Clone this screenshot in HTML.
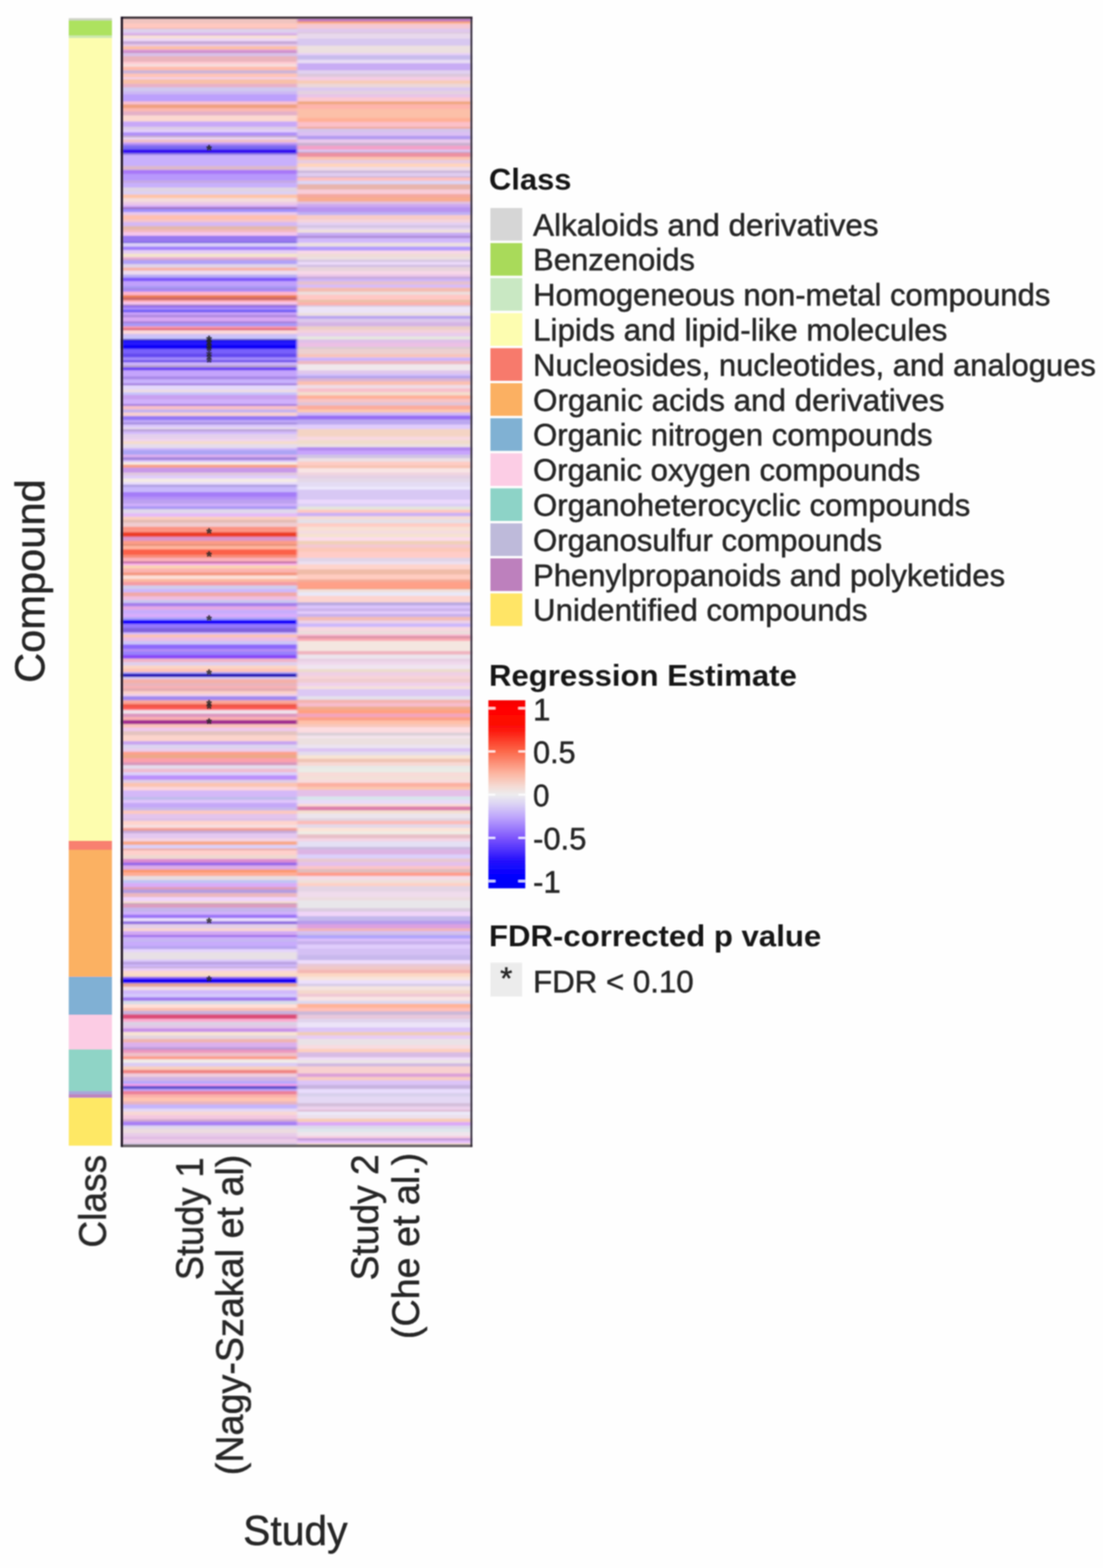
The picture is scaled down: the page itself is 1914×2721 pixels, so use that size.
<!DOCTYPE html>
<html lang="en"><head><meta charset="utf-8"><title>Regression estimate heatmap</title>
<style>
html,body{margin:0;padding:0;background:#fefefe;}
body{width:1914px;height:2721px;overflow:hidden;}
svg{display:block;}
text{font-family:"Liberation Sans",Arial,Helvetica,sans-serif;fill:#262626;stroke:#262626;stroke-width:0.8px;stroke-linejoin:round;}
.b{font-weight:bold;fill:#181818;stroke:none;}
</style></head><body>
<svg width="1914" height="2721" viewBox="0 0 1914 2721">
<defs>
<filter id="bl" x="-5%" y="-5%" width="110%" height="110%"><feGaussianBlur stdDeviation="1.3"/></filter>
<filter id="bh" x="-2%" y="-2%" width="104%" height="104%"><feGaussianBlur stdDeviation="2.2 1.6"/></filter>
<filter id="bt" x="-10%" y="-10%" width="120%" height="120%"><feGaussianBlur stdDeviation="1.15"/></filter>
<linearGradient id="cb" x1="0" y1="0" x2="0" y2="1">
<stop offset="0" stop-color="#f40000"/>
<stop offset="0.04" stop-color="#ff0000"/>
<stop offset="0.15" stop-color="#fd1208"/>
<stop offset="0.272" stop-color="#fc684a"/>
<stop offset="0.39" stop-color="#fcb6a2"/>
<stop offset="0.46" stop-color="#f4dcd6"/>
<stop offset="0.502" stop-color="#ececee"/>
<stop offset="0.55" stop-color="#dcd4f4"/>
<stop offset="0.62" stop-color="#bea6fc"/>
<stop offset="0.732" stop-color="#7e56fc"/>
<stop offset="0.85" stop-color="#2612fc"/>
<stop offset="0.93" stop-color="#0400ff"/>
<stop offset="1" stop-color="#0000f6"/>
</linearGradient>
</defs>
<rect x="0" y="0" width="1914" height="2721" fill="#fefefe"/>
<g filter="url(#bl)">
<rect x="119.3" y="31.5" width="75.0" height="4.5" fill="#cfd3c8"/>
<rect x="119.3" y="35.5" width="75.0" height="26.5" fill="#ade25f"/>
<rect x="119.3" y="61.5" width="75.0" height="5.0" fill="#cde8b0"/>
<rect x="119.3" y="66.0" width="75.0" height="1393.5" fill="#fdfdae"/>
<rect x="119.3" y="1459.0" width="75.0" height="16.2" fill="#f8806f"/>
<rect x="119.3" y="1474.7" width="75.0" height="220.8" fill="#fbb162"/>
<rect x="119.3" y="1695.0" width="75.0" height="66.5" fill="#80b0d4"/>
<rect x="119.3" y="1761.0" width="75.0" height="60.5" fill="#fccce4"/>
<rect x="119.3" y="1821.0" width="75.0" height="72.9" fill="#8fd4c6"/>
<rect x="119.3" y="1893.4" width="75.0" height="6.1" fill="#a8a6d8"/>
<rect x="119.3" y="1899.0" width="75.0" height="6.5" fill="#bd84c0"/>
<rect x="119.3" y="1905.0" width="75.0" height="83.1" fill="#fee865"/>
</g>
<g filter="url(#bh)">
<rect x="211.5" y="30.7" width="606.5" height="1957.8" fill="#e0d0ec"/>
<rect x="211.5" y="30.89" width="304.3" height="3.45" fill="#e8c0c0"/>
<rect x="211.5" y="33.94" width="304.3" height="6.93" fill="#f0c4c0"/>
<rect x="211.5" y="40.47" width="304.3" height="8.68" fill="#ffc8c0"/>
<rect x="211.5" y="48.75" width="304.3" height="1.70" fill="#f0b0a8"/>
<rect x="211.5" y="50.05" width="304.3" height="6.94" fill="#ddd0ec"/>
<rect x="211.5" y="56.59" width="304.3" height="3.44" fill="#e0b8f0"/>
<rect x="211.5" y="59.63" width="304.3" height="2.15" fill="#c8a0d8"/>
<rect x="211.5" y="61.38" width="304.3" height="6.06" fill="#f8e0d8"/>
<rect x="211.5" y="67.04" width="304.3" height="4.75" fill="#eed8f8"/>
<rect x="211.5" y="71.39" width="304.3" height="5.63" fill="#c8a8d8"/>
<rect x="211.5" y="76.62" width="304.3" height="3.88" fill="#e8c8e8"/>
<rect x="211.5" y="80.10" width="304.3" height="6.50" fill="#fcc0a8"/>
<rect x="211.5" y="86.20" width="304.3" height="3.89" fill="#d898d8"/>
<rect x="211.5" y="89.69" width="304.3" height="2.57" fill="#c888c0"/>
<rect x="211.5" y="91.86" width="304.3" height="6.07" fill="#d8c0e8"/>
<rect x="211.5" y="97.53" width="304.3" height="9.98" fill="#eab4bc"/>
<rect x="211.5" y="107.11" width="304.3" height="3.88" fill="#ffc8d0"/>
<rect x="211.5" y="110.59" width="304.3" height="5.63" fill="#f8dcdc"/>
<rect x="211.5" y="115.82" width="304.3" height="6.50" fill="#ffbcac"/>
<rect x="211.5" y="121.92" width="304.3" height="6.06" fill="#ccb4d8"/>
<rect x="211.5" y="127.58" width="304.3" height="6.93" fill="#ffc4b8"/>
<rect x="211.5" y="134.11" width="304.3" height="3.89" fill="#f4d0e8"/>
<rect x="211.5" y="137.60" width="304.3" height="8.24" fill="#f8c0a8"/>
<rect x="211.5" y="145.44" width="304.3" height="6.49" fill="#e8b0c8"/>
<rect x="211.5" y="151.53" width="304.3" height="7.37" fill="#d0c8f0"/>
<rect x="211.5" y="158.50" width="304.3" height="5.63" fill="#ccb8f4"/>
<rect x="211.5" y="163.73" width="304.3" height="12.59" fill="#bca0fc"/>
<rect x="211.5" y="175.92" width="304.3" height="5.63" fill="#f8c0d0"/>
<rect x="211.5" y="181.15" width="304.3" height="6.93" fill="#f0a080"/>
<rect x="211.5" y="187.68" width="304.3" height="6.06" fill="#fcb8b0"/>
<rect x="211.5" y="193.34" width="304.3" height="7.37" fill="#e4b0c8"/>
<rect x="211.5" y="200.31" width="304.3" height="10.86" fill="#fcd8d0"/>
<rect x="211.5" y="210.77" width="304.3" height="9.63" fill="#c8a8f8"/>
<rect x="211.5" y="220.00" width="304.3" height="5.63" fill="#dccce8"/>
<rect x="211.5" y="225.23" width="304.3" height="4.75" fill="#e4d0fc"/>
<rect x="211.5" y="229.58" width="304.3" height="6.50" fill="#b090f8"/>
<rect x="211.5" y="235.68" width="304.3" height="3.45" fill="#c8b0cc"/>
<rect x="211.5" y="238.73" width="304.3" height="3.45" fill="#ecd8fc"/>
<rect x="211.5" y="241.78" width="304.3" height="5.62" fill="#f0c0c8"/>
<rect x="211.5" y="247.00" width="304.3" height="3.45" fill="#c8a0f8"/>
<rect x="211.5" y="250.05" width="304.3" height="3.45" fill="#a080f0"/>
<rect x="211.5" y="253.10" width="304.3" height="6.50" fill="#7868f0"/>
<rect x="211.5" y="259.20" width="304.3" height="6.93" fill="#3010f0"/>
<rect x="211.5" y="265.73" width="304.3" height="3.45" fill="#9078e0"/>
<rect x="211.5" y="268.78" width="304.3" height="19.56" fill="#c8b0fc"/>
<rect x="211.5" y="287.94" width="304.3" height="7.37" fill="#dcb8cc"/>
<rect x="211.5" y="294.91" width="304.3" height="7.37" fill="#a878f8"/>
<rect x="211.5" y="301.88" width="304.3" height="11.73" fill="#b898fc"/>
<rect x="211.5" y="313.21" width="304.3" height="4.75" fill="#c4a8e4"/>
<rect x="211.5" y="317.56" width="304.3" height="8.24" fill="#c8b0fc"/>
<rect x="211.5" y="325.40" width="304.3" height="7.37" fill="#e0d4e4"/>
<rect x="211.5" y="332.37" width="304.3" height="5.63" fill="#dcd0f4"/>
<rect x="211.5" y="337.60" width="304.3" height="6.49" fill="#ffc4a8"/>
<rect x="211.5" y="343.69" width="304.3" height="7.37" fill="#f4dcdc"/>
<rect x="211.5" y="350.66" width="304.3" height="5.63" fill="#ecc8e8"/>
<rect x="211.5" y="355.89" width="304.3" height="3.88" fill="#d8b0f8"/>
<rect x="211.5" y="359.37" width="304.3" height="3.89" fill="#a070c8"/>
<rect x="211.5" y="362.86" width="304.3" height="5.62" fill="#a090fc"/>
<rect x="211.5" y="368.08" width="304.3" height="5.63" fill="#e8c8ec"/>
<rect x="211.5" y="373.31" width="304.3" height="8.24" fill="#ffc0b0"/>
<rect x="211.5" y="381.15" width="304.3" height="4.76" fill="#f4c4cc"/>
<rect x="211.5" y="385.51" width="304.3" height="7.36" fill="#d4b8f4"/>
<rect x="211.5" y="392.47" width="304.3" height="6.50" fill="#e4b8ac"/>
<rect x="211.5" y="398.57" width="304.3" height="4.76" fill="#f4b8c0"/>
<rect x="211.5" y="402.93" width="304.3" height="6.49" fill="#f4c4ec"/>
<rect x="211.5" y="409.02" width="304.3" height="11.38" fill="#9878f0"/>
<rect x="211.5" y="420.00" width="304.3" height="2.14" fill="#6858d8"/>
<rect x="211.5" y="421.74" width="304.3" height="6.50" fill="#dcd0f8"/>
<rect x="211.5" y="427.84" width="304.3" height="6.50" fill="#a080fc"/>
<rect x="211.5" y="433.94" width="304.3" height="6.49" fill="#e4ccf4"/>
<rect x="211.5" y="440.03" width="304.3" height="6.50" fill="#f4e4cc"/>
<rect x="211.5" y="446.13" width="304.3" height="3.89" fill="#e8b0d8"/>
<rect x="211.5" y="449.62" width="304.3" height="2.14" fill="#d0a0c0"/>
<rect x="211.5" y="451.36" width="304.3" height="7.37" fill="#b0a0f8"/>
<rect x="211.5" y="458.33" width="304.3" height="6.50" fill="#e0d4e8"/>
<rect x="211.5" y="464.43" width="304.3" height="5.62" fill="#f8b4a8"/>
<rect x="211.5" y="469.65" width="304.3" height="7.37" fill="#ecdcf0"/>
<rect x="211.5" y="476.62" width="304.3" height="5.63" fill="#b8acf4"/>
<rect x="211.5" y="481.85" width="304.3" height="6.49" fill="#8058fc"/>
<rect x="211.5" y="487.94" width="304.3" height="9.12" fill="#c0a0fc"/>
<rect x="211.5" y="496.66" width="304.3" height="4.31" fill="#a898f4"/>
<rect x="211.5" y="500.57" width="304.3" height="2.15" fill="#a080d8"/>
<rect x="211.5" y="502.32" width="304.3" height="4.32" fill="#a888fc"/>
<rect x="211.5" y="506.24" width="304.3" height="6.49" fill="#ffb4cc"/>
<rect x="211.5" y="512.33" width="304.3" height="3.89" fill="#f08050"/>
<rect x="211.5" y="515.82" width="304.3" height="5.63" fill="#d06868"/>
<rect x="211.5" y="521.05" width="304.3" height="3.88" fill="#ffb0b8"/>
<rect x="211.5" y="524.53" width="304.3" height="3.88" fill="#f8c8f4"/>
<rect x="211.5" y="528.01" width="304.3" height="3.02" fill="#b890c8"/>
<rect x="211.5" y="530.63" width="304.3" height="3.88" fill="#9068f0"/>
<rect x="211.5" y="534.11" width="304.3" height="3.01" fill="#b898fc"/>
<rect x="211.5" y="536.72" width="304.3" height="4.32" fill="#7c68fc"/>
<rect x="211.5" y="540.64" width="304.3" height="1.71" fill="#6048e0"/>
<rect x="211.5" y="541.95" width="304.3" height="4.76" fill="#c8a0fc"/>
<rect x="211.5" y="546.31" width="304.3" height="4.75" fill="#b088e0"/>
<rect x="211.5" y="550.66" width="304.3" height="7.37" fill="#d8a8f4"/>
<rect x="211.5" y="557.63" width="304.3" height="3.88" fill="#a880dc"/>
<rect x="211.5" y="561.11" width="304.3" height="5.63" fill="#a898f8"/>
<rect x="211.5" y="566.34" width="304.3" height="3.89" fill="#f898a8"/>
<rect x="211.5" y="569.83" width="304.3" height="3.88" fill="#e06880"/>
<rect x="211.5" y="573.31" width="304.3" height="6.50" fill="#fcd8d8"/>
<rect x="211.5" y="579.41" width="304.3" height="4.75" fill="#d0c0f4"/>
<rect x="211.5" y="583.76" width="304.3" height="4.76" fill="#c8c4fc"/>
<rect x="211.5" y="588.12" width="304.3" height="3.01" fill="#5040c0"/>
<rect x="211.5" y="590.73" width="304.3" height="4.76" fill="#1808f8"/>
<rect x="211.5" y="595.09" width="304.3" height="3.88" fill="#2818ff"/>
<rect x="211.5" y="598.57" width="304.3" height="7.37" fill="#1000f8"/>
<rect x="211.5" y="605.54" width="304.3" height="8.24" fill="#7860fc"/>
<rect x="211.5" y="613.38" width="304.3" height="7.02" fill="#6448f0"/>
<rect x="211.5" y="620.00" width="304.3" height="5.63" fill="#a088fc"/>
<rect x="211.5" y="625.23" width="304.3" height="3.88" fill="#6848e8"/>
<rect x="211.5" y="628.71" width="304.3" height="5.63" fill="#ccb4fc"/>
<rect x="211.5" y="633.94" width="304.3" height="3.88" fill="#b8a0c8"/>
<rect x="211.5" y="637.42" width="304.3" height="5.63" fill="#6c44f4"/>
<rect x="211.5" y="642.65" width="304.3" height="10.85" fill="#c4a4fc"/>
<rect x="211.5" y="653.10" width="304.3" height="5.63" fill="#a888e8"/>
<rect x="211.5" y="658.33" width="304.3" height="7.37" fill="#c8b0fc"/>
<rect x="211.5" y="665.30" width="304.3" height="3.88" fill="#a480e0"/>
<rect x="211.5" y="668.78" width="304.3" height="7.37" fill="#e4d8fc"/>
<rect x="211.5" y="675.75" width="304.3" height="5.63" fill="#ecdce4"/>
<rect x="211.5" y="680.98" width="304.3" height="4.75" fill="#c8c4fc"/>
<rect x="211.5" y="685.33" width="304.3" height="8.24" fill="#c8a0f0"/>
<rect x="211.5" y="693.17" width="304.3" height="8.24" fill="#d0b0fc"/>
<rect x="211.5" y="701.01" width="304.3" height="3.88" fill="#a880e0"/>
<rect x="211.5" y="704.49" width="304.3" height="6.50" fill="#f8c0c8"/>
<rect x="211.5" y="710.59" width="304.3" height="5.63" fill="#c4b4f0"/>
<rect x="211.5" y="715.82" width="304.3" height="6.50" fill="#f8d0d0"/>
<rect x="211.5" y="721.92" width="304.3" height="7.37" fill="#9478f4"/>
<rect x="211.5" y="728.89" width="304.3" height="4.75" fill="#c0a8f8"/>
<rect x="211.5" y="733.24" width="304.3" height="3.88" fill="#a48ce0"/>
<rect x="211.5" y="736.72" width="304.3" height="5.63" fill="#dcc8fc"/>
<rect x="211.5" y="741.95" width="304.3" height="3.01" fill="#ece0ec"/>
<rect x="211.5" y="744.56" width="304.3" height="4.76" fill="#bca4dc"/>
<rect x="211.5" y="748.92" width="304.3" height="4.76" fill="#d4bcfc"/>
<rect x="211.5" y="753.28" width="304.3" height="8.23" fill="#e4d0ec"/>
<rect x="211.5" y="761.11" width="304.3" height="4.76" fill="#f0d4f0"/>
<rect x="211.5" y="765.47" width="304.3" height="5.63" fill="#f4dccc"/>
<rect x="211.5" y="770.70" width="304.3" height="7.37" fill="#e6dcec"/>
<rect x="211.5" y="777.67" width="304.3" height="3.88" fill="#ccb4fc"/>
<rect x="211.5" y="781.15" width="304.3" height="8.24" fill="#aca4f4"/>
<rect x="211.5" y="788.99" width="304.3" height="4.75" fill="#dcb0f0"/>
<rect x="211.5" y="793.34" width="304.3" height="5.63" fill="#a484dc"/>
<rect x="211.5" y="798.57" width="304.3" height="3.89" fill="#dcc8fc"/>
<rect x="211.5" y="802.06" width="304.3" height="4.75" fill="#f8ece0"/>
<rect x="211.5" y="806.41" width="304.3" height="5.63" fill="#f8a088"/>
<rect x="211.5" y="811.64" width="304.3" height="8.76" fill="#c898e8"/>
<rect x="211.5" y="820.00" width="304.3" height="5.63" fill="#e0c8e0"/>
<rect x="211.5" y="825.23" width="304.3" height="5.62" fill="#e0ccfc"/>
<rect x="211.5" y="830.45" width="304.3" height="6.50" fill="#f4ece4"/>
<rect x="211.5" y="836.55" width="304.3" height="4.76" fill="#e8dcfc"/>
<rect x="211.5" y="840.91" width="304.3" height="4.75" fill="#b0a0e4"/>
<rect x="211.5" y="845.26" width="304.3" height="9.11" fill="#c8b8fc"/>
<rect x="211.5" y="853.97" width="304.3" height="8.24" fill="#a47cf8"/>
<rect x="211.5" y="861.81" width="304.3" height="5.63" fill="#b490f8"/>
<rect x="211.5" y="867.04" width="304.3" height="7.37" fill="#bca0f0"/>
<rect x="211.5" y="874.01" width="304.3" height="4.75" fill="#d0b0fc"/>
<rect x="211.5" y="878.36" width="304.3" height="5.63" fill="#ac98f4"/>
<rect x="211.5" y="883.59" width="304.3" height="7.37" fill="#e0d8ec"/>
<rect x="211.5" y="890.56" width="304.3" height="6.50" fill="#e4bcf8"/>
<rect x="211.5" y="896.66" width="304.3" height="5.62" fill="#fccfc0"/>
<rect x="211.5" y="901.88" width="304.3" height="5.63" fill="#e4bcb4"/>
<rect x="211.5" y="907.11" width="304.3" height="7.37" fill="#f0ccd0"/>
<rect x="211.5" y="914.08" width="304.3" height="9.98" fill="#fc9484"/>
<rect x="211.5" y="923.66" width="304.3" height="8.24" fill="#ec3c28"/>
<rect x="211.5" y="931.50" width="304.3" height="7.37" fill="#dc94c8"/>
<rect x="211.5" y="938.47" width="304.3" height="6.49" fill="#fc9c88"/>
<rect x="211.5" y="944.56" width="304.3" height="3.02" fill="#e48c70"/>
<rect x="211.5" y="947.18" width="304.3" height="6.50" fill="#ffb49c"/>
<rect x="211.5" y="953.28" width="304.3" height="9.98" fill="#fc6048"/>
<rect x="211.5" y="962.86" width="304.3" height="5.62" fill="#f88c78"/>
<rect x="211.5" y="968.08" width="304.3" height="6.50" fill="#fcb0b8"/>
<rect x="211.5" y="974.18" width="304.3" height="3.89" fill="#c470a8"/>
<rect x="211.5" y="977.67" width="304.3" height="3.88" fill="#fcb0e8"/>
<rect x="211.5" y="981.15" width="304.3" height="5.63" fill="#fcd4b4"/>
<rect x="211.5" y="986.38" width="304.3" height="7.36" fill="#fcb4b0"/>
<rect x="211.5" y="993.34" width="304.3" height="5.63" fill="#f49880"/>
<rect x="211.5" y="998.57" width="304.3" height="6.50" fill="#fce0d8"/>
<rect x="211.5" y="1004.67" width="304.3" height="5.63" fill="#fcb8a0"/>
<rect x="211.5" y="1009.90" width="304.3" height="6.49" fill="#f49ca4"/>
<rect x="211.5" y="1015.99" width="304.3" height="4.41" fill="#d0ccec"/>
<rect x="211.5" y="1020.00" width="304.3" height="2.14" fill="#d4d0ec"/>
<rect x="211.5" y="1021.74" width="304.3" height="6.50" fill="#ccb8fc"/>
<rect x="211.5" y="1027.84" width="304.3" height="7.37" fill="#f0a8a8"/>
<rect x="211.5" y="1034.81" width="304.3" height="6.50" fill="#f0bce0"/>
<rect x="211.5" y="1040.91" width="304.3" height="5.62" fill="#ccc8f0"/>
<rect x="211.5" y="1046.13" width="304.3" height="6.50" fill="#a480ec"/>
<rect x="211.5" y="1052.23" width="304.3" height="6.50" fill="#e4a8e4"/>
<rect x="211.5" y="1058.33" width="304.3" height="7.37" fill="#c8acfc"/>
<rect x="211.5" y="1065.30" width="304.3" height="6.49" fill="#d8acfc"/>
<rect x="211.5" y="1071.39" width="304.3" height="4.76" fill="#a8a0f8"/>
<rect x="211.5" y="1075.75" width="304.3" height="7.37" fill="#1400fc"/>
<rect x="211.5" y="1082.72" width="304.3" height="7.37" fill="#9478fc"/>
<rect x="211.5" y="1089.69" width="304.3" height="8.24" fill="#8064dc"/>
<rect x="211.5" y="1097.53" width="304.3" height="3.88" fill="#d4bcfc"/>
<rect x="211.5" y="1101.01" width="304.3" height="5.63" fill="#fcc4b4"/>
<rect x="211.5" y="1106.24" width="304.3" height="6.49" fill="#ecbce4"/>
<rect x="211.5" y="1112.33" width="304.3" height="6.50" fill="#ccc4f8"/>
<rect x="211.5" y="1118.43" width="304.3" height="8.24" fill="#8c68fc"/>
<rect x="211.5" y="1126.27" width="304.3" height="4.76" fill="#b48cf4"/>
<rect x="211.5" y="1130.63" width="304.3" height="6.49" fill="#9880fc"/>
<rect x="211.5" y="1136.72" width="304.3" height="6.50" fill="#8848f8"/>
<rect x="211.5" y="1142.82" width="304.3" height="6.50" fill="#f0b4c8"/>
<rect x="211.5" y="1148.92" width="304.3" height="6.50" fill="#e0d0ec"/>
<rect x="211.5" y="1155.02" width="304.3" height="5.62" fill="#fcd6c4"/>
<rect x="211.5" y="1160.24" width="304.3" height="6.50" fill="#ffc4b8"/>
<rect x="211.5" y="1166.34" width="304.3" height="3.01" fill="#a8a4fc"/>
<rect x="211.5" y="1168.95" width="304.3" height="6.50" fill="#2818b8"/>
<rect x="211.5" y="1175.05" width="304.3" height="3.89" fill="#d8ccf8"/>
<rect x="211.5" y="1178.54" width="304.3" height="7.37" fill="#f4b0a8"/>
<rect x="211.5" y="1185.51" width="304.3" height="5.62" fill="#e8b4bc"/>
<rect x="211.5" y="1190.73" width="304.3" height="3.89" fill="#fcb0b4"/>
<rect x="211.5" y="1194.22" width="304.3" height="5.62" fill="#e4acb0"/>
<rect x="211.5" y="1199.44" width="304.3" height="4.76" fill="#fcd0c8"/>
<rect x="211.5" y="1203.80" width="304.3" height="4.75" fill="#f0d0e8"/>
<rect x="211.5" y="1208.15" width="304.3" height="7.37" fill="#a088f0"/>
<rect x="211.5" y="1215.12" width="304.3" height="5.28" fill="#f8a89c"/>
<rect x="211.5" y="1220.00" width="304.3" height="3.01" fill="#fc9080"/>
<rect x="211.5" y="1222.61" width="304.3" height="3.89" fill="#ec503c"/>
<rect x="211.5" y="1226.10" width="304.3" height="5.62" fill="#fc5850"/>
<rect x="211.5" y="1231.32" width="304.3" height="2.15" fill="#f8b0c0"/>
<rect x="211.5" y="1233.07" width="304.3" height="5.62" fill="#f0e4ec"/>
<rect x="211.5" y="1238.29" width="304.3" height="6.50" fill="#dc98c0"/>
<rect x="211.5" y="1244.39" width="304.3" height="5.63" fill="#fcb0b0"/>
<rect x="211.5" y="1249.62" width="304.3" height="7.37" fill="#a02c90"/>
<rect x="211.5" y="1256.59" width="304.3" height="6.49" fill="#fcc4bc"/>
<rect x="211.5" y="1262.68" width="304.3" height="6.50" fill="#f0c8ec"/>
<rect x="211.5" y="1268.78" width="304.3" height="7.37" fill="#e4c4c0"/>
<rect x="211.5" y="1275.75" width="304.3" height="10.85" fill="#fcd4cc"/>
<rect x="211.5" y="1286.20" width="304.3" height="6.50" fill="#c8a4f0"/>
<rect x="211.5" y="1292.30" width="304.3" height="7.37" fill="#dcd4f0"/>
<rect x="211.5" y="1299.27" width="304.3" height="5.62" fill="#ecccec"/>
<rect x="211.5" y="1304.49" width="304.3" height="5.63" fill="#fca08c"/>
<rect x="211.5" y="1309.72" width="304.3" height="6.50" fill="#eca888"/>
<rect x="211.5" y="1315.82" width="304.3" height="7.37" fill="#fca0ac"/>
<rect x="211.5" y="1322.79" width="304.3" height="5.62" fill="#d898bc"/>
<rect x="211.5" y="1328.01" width="304.3" height="6.50" fill="#e4dcec"/>
<rect x="211.5" y="1334.11" width="304.3" height="6.50" fill="#f0bcd0"/>
<rect x="211.5" y="1340.21" width="304.3" height="5.63" fill="#dcd0fc"/>
<rect x="211.5" y="1345.44" width="304.3" height="8.24" fill="#bc90fc"/>
<rect x="211.5" y="1353.28" width="304.3" height="5.62" fill="#e0cce4"/>
<rect x="211.5" y="1358.50" width="304.3" height="7.37" fill="#fcc4b0"/>
<rect x="211.5" y="1365.47" width="304.3" height="6.50" fill="#fcd4dc"/>
<rect x="211.5" y="1371.57" width="304.3" height="11.72" fill="#d4b8f8"/>
<rect x="211.5" y="1382.89" width="304.3" height="5.63" fill="#c0bcec"/>
<rect x="211.5" y="1388.12" width="304.3" height="5.62" fill="#e0c4fc"/>
<rect x="211.5" y="1393.34" width="304.3" height="8.24" fill="#c4a8f8"/>
<rect x="211.5" y="1401.18" width="304.3" height="5.63" fill="#c8b8ec"/>
<rect x="211.5" y="1406.41" width="304.3" height="6.50" fill="#fcc8c0"/>
<rect x="211.5" y="1412.51" width="304.3" height="7.89" fill="#e4c4ec"/>
<rect x="211.5" y="1420.00" width="304.3" height="4.76" fill="#dcc0e8"/>
<rect x="211.5" y="1424.36" width="304.3" height="7.36" fill="#ffd4cc"/>
<rect x="211.5" y="1431.32" width="304.3" height="5.63" fill="#f8e0e0"/>
<rect x="211.5" y="1436.55" width="304.3" height="3.88" fill="#f8a49c"/>
<rect x="211.5" y="1440.03" width="304.3" height="2.15" fill="#e09890"/>
<rect x="211.5" y="1441.78" width="304.3" height="4.75" fill="#c8acdc"/>
<rect x="211.5" y="1446.13" width="304.3" height="9.11" fill="#e4c8f0"/>
<rect x="211.5" y="1454.84" width="304.3" height="5.63" fill="#f4d4e4"/>
<rect x="211.5" y="1460.07" width="304.3" height="6.50" fill="#f8a888"/>
<rect x="211.5" y="1466.17" width="304.3" height="6.49" fill="#dcd0f8"/>
<rect x="211.5" y="1472.26" width="304.3" height="3.89" fill="#ecb0ac"/>
<rect x="211.5" y="1475.75" width="304.3" height="8.24" fill="#ffd0cc"/>
<rect x="211.5" y="1483.59" width="304.3" height="7.37" fill="#f0d8d0"/>
<rect x="211.5" y="1490.56" width="304.3" height="6.50" fill="#dc8cd0"/>
<rect x="211.5" y="1496.66" width="304.3" height="5.62" fill="#9868e8"/>
<rect x="211.5" y="1501.88" width="304.3" height="7.37" fill="#dcace8"/>
<rect x="211.5" y="1508.85" width="304.3" height="5.63" fill="#fc9870"/>
<rect x="211.5" y="1514.08" width="304.3" height="6.49" fill="#ffac94"/>
<rect x="211.5" y="1520.17" width="304.3" height="7.37" fill="#e8dce0"/>
<rect x="211.5" y="1527.14" width="304.3" height="5.63" fill="#c0c4f4"/>
<rect x="211.5" y="1532.37" width="304.3" height="7.37" fill="#d8acf8"/>
<rect x="211.5" y="1539.34" width="304.3" height="4.75" fill="#e09cb8"/>
<rect x="211.5" y="1543.69" width="304.3" height="6.50" fill="#b49ce0"/>
<rect x="211.5" y="1549.79" width="304.3" height="7.37" fill="#ecb8c0"/>
<rect x="211.5" y="1556.76" width="304.3" height="7.37" fill="#f0d4fc"/>
<rect x="211.5" y="1563.73" width="304.3" height="3.88" fill="#f8dcd4"/>
<rect x="211.5" y="1567.21" width="304.3" height="2.14" fill="#c0a8b0"/>
<rect x="211.5" y="1568.95" width="304.3" height="6.50" fill="#dc9cc0"/>
<rect x="211.5" y="1575.05" width="304.3" height="7.37" fill="#c4b4ec"/>
<rect x="211.5" y="1582.02" width="304.3" height="5.63" fill="#d0b0fc"/>
<rect x="211.5" y="1587.25" width="304.3" height="6.49" fill="#9c74f8"/>
<rect x="211.5" y="1593.34" width="304.3" height="5.63" fill="#ece0fc"/>
<rect x="211.5" y="1598.57" width="304.3" height="5.63" fill="#9070e0"/>
<rect x="211.5" y="1603.80" width="304.3" height="7.37" fill="#e4d0e8"/>
<rect x="211.5" y="1610.77" width="304.3" height="5.62" fill="#f8d4d0"/>
<rect x="211.5" y="1615.99" width="304.3" height="4.41" fill="#d0a8f8"/>
<rect x="211.5" y="1620.00" width="304.3" height="3.01" fill="#d4a8ec"/>
<rect x="211.5" y="1622.61" width="304.3" height="3.89" fill="#9c6cec"/>
<rect x="211.5" y="1626.10" width="304.3" height="4.75" fill="#ccacfc"/>
<rect x="211.5" y="1630.45" width="304.3" height="3.89" fill="#c4b8f0"/>
<rect x="211.5" y="1633.94" width="304.3" height="8.24" fill="#c8acfc"/>
<rect x="211.5" y="1641.78" width="304.3" height="5.62" fill="#b8a4f0"/>
<rect x="211.5" y="1647.00" width="304.3" height="5.63" fill="#e4d4fc"/>
<rect x="211.5" y="1652.23" width="304.3" height="13.47" fill="#e8e0e6"/>
<rect x="211.5" y="1665.30" width="304.3" height="3.88" fill="#dcc8fc"/>
<rect x="211.5" y="1668.78" width="304.3" height="5.63" fill="#bca4e4"/>
<rect x="211.5" y="1674.01" width="304.3" height="3.88" fill="#d0b8fc"/>
<rect x="211.5" y="1677.49" width="304.3" height="3.01" fill="#c4acd8"/>
<rect x="211.5" y="1680.10" width="304.3" height="4.76" fill="#e8ccfc"/>
<rect x="211.5" y="1684.46" width="304.3" height="5.63" fill="#fcd8d0"/>
<rect x="211.5" y="1689.69" width="304.3" height="5.62" fill="#f8dcc4"/>
<rect x="211.5" y="1694.91" width="304.3" height="3.89" fill="#9464f0"/>
<rect x="211.5" y="1698.40" width="304.3" height="8.24" fill="#1800f4"/>
<rect x="211.5" y="1706.24" width="304.3" height="6.49" fill="#e4a498"/>
<rect x="211.5" y="1712.33" width="304.3" height="6.50" fill="#f0dce4"/>
<rect x="211.5" y="1718.43" width="304.3" height="6.50" fill="#d0b8fc"/>
<rect x="211.5" y="1724.53" width="304.3" height="6.50" fill="#d4c8fc"/>
<rect x="211.5" y="1730.63" width="304.3" height="6.49" fill="#a078f0"/>
<rect x="211.5" y="1736.72" width="304.3" height="6.50" fill="#d8dce8"/>
<rect x="211.5" y="1742.82" width="304.3" height="6.50" fill="#ffe0d8"/>
<rect x="211.5" y="1748.92" width="304.3" height="5.63" fill="#fcc0b0"/>
<rect x="211.5" y="1754.15" width="304.3" height="6.49" fill="#c8b0dc"/>
<rect x="211.5" y="1760.24" width="304.3" height="8.24" fill="#dc4c78"/>
<rect x="211.5" y="1768.08" width="304.3" height="5.63" fill="#fcacd0"/>
<rect x="211.5" y="1773.31" width="304.3" height="6.50" fill="#dcd0e4"/>
<rect x="211.5" y="1779.41" width="304.3" height="5.62" fill="#e4c4e8"/>
<rect x="211.5" y="1784.63" width="304.3" height="6.50" fill="#c890e8"/>
<rect x="211.5" y="1790.73" width="304.3" height="6.50" fill="#f8e4d4"/>
<rect x="211.5" y="1796.83" width="304.3" height="6.50" fill="#e4d4e0"/>
<rect x="211.5" y="1802.93" width="304.3" height="6.49" fill="#f0b4b0"/>
<rect x="211.5" y="1809.02" width="304.3" height="8.24" fill="#dcb0ec"/>
<rect x="211.5" y="1816.86" width="304.3" height="3.54" fill="#c0a0e0"/>
<rect x="211.5" y="1820.00" width="304.3" height="2.14" fill="#c090cc"/>
<rect x="211.5" y="1821.74" width="304.3" height="5.63" fill="#ec98c0"/>
<rect x="211.5" y="1826.97" width="304.3" height="6.50" fill="#f0c0c8"/>
<rect x="211.5" y="1833.07" width="304.3" height="5.62" fill="#fc9c8c"/>
<rect x="211.5" y="1838.29" width="304.3" height="6.50" fill="#f0ece8"/>
<rect x="211.5" y="1844.39" width="304.3" height="6.50" fill="#dcccf4"/>
<rect x="211.5" y="1850.49" width="304.3" height="6.50" fill="#f8d0c0"/>
<rect x="211.5" y="1856.59" width="304.3" height="6.49" fill="#f08484"/>
<rect x="211.5" y="1862.68" width="304.3" height="6.50" fill="#f0ccdc"/>
<rect x="211.5" y="1868.78" width="304.3" height="7.37" fill="#d0b4e4"/>
<rect x="211.5" y="1875.75" width="304.3" height="5.63" fill="#b8a8fc"/>
<rect x="211.5" y="1880.98" width="304.3" height="3.88" fill="#f4a0ec"/>
<rect x="211.5" y="1884.46" width="304.3" height="5.63" fill="#6050cc"/>
<rect x="211.5" y="1889.69" width="304.3" height="3.88" fill="#bca4fc"/>
<rect x="211.5" y="1893.17" width="304.3" height="6.50" fill="#ec8098"/>
<rect x="211.5" y="1899.27" width="304.3" height="5.62" fill="#fcb0a8"/>
<rect x="211.5" y="1904.49" width="304.3" height="7.37" fill="#ffc4b0"/>
<rect x="211.5" y="1911.46" width="304.3" height="5.63" fill="#e8b4c0"/>
<rect x="211.5" y="1916.69" width="304.3" height="7.37" fill="#c4b4fc"/>
<rect x="211.5" y="1923.66" width="304.3" height="5.63" fill="#e4d8f4"/>
<rect x="211.5" y="1928.89" width="304.3" height="6.49" fill="#f8d8d4"/>
<rect x="211.5" y="1934.98" width="304.3" height="7.37" fill="#f4c8e0"/>
<rect x="211.5" y="1941.95" width="304.3" height="4.76" fill="#d4acd0"/>
<rect x="211.5" y="1946.31" width="304.3" height="7.37" fill="#a880f4"/>
<rect x="211.5" y="1953.28" width="304.3" height="5.62" fill="#e0d8f0"/>
<rect x="211.5" y="1958.50" width="304.3" height="8.24" fill="#ecdce0"/>
<rect x="211.5" y="1966.34" width="304.3" height="6.50" fill="#e8cce8"/>
<rect x="211.5" y="1972.44" width="304.3" height="4.75" fill="#e0bce4"/>
<rect x="211.5" y="1976.79" width="304.3" height="7.37" fill="#eccce8"/>
<rect x="211.5" y="1983.76" width="304.3" height="5.19" fill="#d0c0dc"/>
<rect x="515.8" y="31.32" width="302.2" height="6.07" fill="#c078c0"/>
<rect x="515.8" y="36.99" width="302.2" height="3.01" fill="#f09878"/>
<rect x="515.8" y="39.60" width="302.2" height="3.01" fill="#ffc0a8"/>
<rect x="515.8" y="42.21" width="302.2" height="7.81" fill="#f4c8d4"/>
<rect x="515.8" y="49.62" width="302.2" height="7.37" fill="#e0c8ec"/>
<rect x="515.8" y="56.59" width="302.2" height="2.14" fill="#dcc8d8"/>
<rect x="515.8" y="58.33" width="302.2" height="9.11" fill="#e8d8ec"/>
<rect x="515.8" y="67.04" width="302.2" height="12.59" fill="#d8c8f0"/>
<rect x="515.8" y="79.23" width="302.2" height="13.47" fill="#ece0e0"/>
<rect x="515.8" y="92.30" width="302.2" height="3.88" fill="#e8d0f8"/>
<rect x="515.8" y="95.78" width="302.2" height="8.24" fill="#c8bcec"/>
<rect x="515.8" y="103.62" width="302.2" height="6.50" fill="#e8dcf4"/>
<rect x="515.8" y="109.72" width="302.2" height="12.60" fill="#c8acf4"/>
<rect x="515.8" y="121.92" width="302.2" height="6.49" fill="#e0d0f0"/>
<rect x="515.8" y="128.01" width="302.2" height="5.63" fill="#dcc8dc"/>
<rect x="515.8" y="133.24" width="302.2" height="6.50" fill="#f4cce4"/>
<rect x="515.8" y="139.34" width="302.2" height="6.50" fill="#f8ccb8"/>
<rect x="515.8" y="145.44" width="302.2" height="6.49" fill="#ecd8d8"/>
<rect x="515.8" y="151.53" width="302.2" height="6.50" fill="#dcc8f0"/>
<rect x="515.8" y="157.63" width="302.2" height="6.50" fill="#e4d0e0"/>
<rect x="515.8" y="163.73" width="302.2" height="5.62" fill="#e8c4e8"/>
<rect x="515.8" y="168.95" width="302.2" height="7.37" fill="#fcc8d0"/>
<rect x="515.8" y="175.92" width="302.2" height="5.63" fill="#f0a880"/>
<rect x="515.8" y="181.15" width="302.2" height="8.24" fill="#ffb4ac"/>
<rect x="515.8" y="188.99" width="302.2" height="16.08" fill="#fcc0a8"/>
<rect x="515.8" y="204.67" width="302.2" height="7.37" fill="#ffb098"/>
<rect x="515.8" y="211.64" width="302.2" height="8.76" fill="#fcc0c8"/>
<rect x="515.8" y="220.00" width="302.2" height="3.88" fill="#f0aca0"/>
<rect x="515.8" y="223.48" width="302.2" height="6.50" fill="#d4c4ec"/>
<rect x="515.8" y="229.58" width="302.2" height="6.50" fill="#dcc0f4"/>
<rect x="515.8" y="235.68" width="302.2" height="6.50" fill="#b49cf0"/>
<rect x="515.8" y="241.78" width="302.2" height="6.49" fill="#e8c8ec"/>
<rect x="515.8" y="247.87" width="302.2" height="5.63" fill="#ccb0d0"/>
<rect x="515.8" y="253.10" width="302.2" height="6.93" fill="#f4a0c8"/>
<rect x="515.8" y="259.63" width="302.2" height="4.32" fill="#dcc4f0"/>
<rect x="515.8" y="263.55" width="302.2" height="2.15" fill="#c0a0c8"/>
<rect x="515.8" y="265.30" width="302.2" height="7.36" fill="#ec90a0"/>
<rect x="515.8" y="272.26" width="302.2" height="5.63" fill="#fcc4b0"/>
<rect x="515.8" y="277.49" width="302.2" height="6.50" fill="#e8cce0"/>
<rect x="515.8" y="283.59" width="302.2" height="6.50" fill="#ffd4bc"/>
<rect x="515.8" y="289.69" width="302.2" height="6.49" fill="#f0dce8"/>
<rect x="515.8" y="295.78" width="302.2" height="4.76" fill="#ccb8dc"/>
<rect x="515.8" y="300.14" width="302.2" height="6.50" fill="#e0ccf0"/>
<rect x="515.8" y="306.24" width="302.2" height="2.14" fill="#c8b0d0"/>
<rect x="515.8" y="307.98" width="302.2" height="6.06" fill="#ffc0c0"/>
<rect x="515.8" y="313.64" width="302.2" height="6.50" fill="#dcd4f4"/>
<rect x="515.8" y="319.74" width="302.2" height="9.55" fill="#e8b4ac"/>
<rect x="515.8" y="328.89" width="302.2" height="8.23" fill="#f8ccd8"/>
<rect x="515.8" y="336.72" width="302.2" height="5.63" fill="#f4a8a0"/>
<rect x="515.8" y="341.95" width="302.2" height="8.24" fill="#f8ac90"/>
<rect x="515.8" y="349.79" width="302.2" height="4.76" fill="#e0c0e0"/>
<rect x="515.8" y="354.15" width="302.2" height="5.62" fill="#cca8f0"/>
<rect x="515.8" y="359.37" width="302.2" height="9.11" fill="#b894f0"/>
<rect x="515.8" y="368.08" width="302.2" height="5.63" fill="#c0b0f4"/>
<rect x="515.8" y="373.31" width="302.2" height="8.24" fill="#f8ccc8"/>
<rect x="515.8" y="381.15" width="302.2" height="5.63" fill="#f4d4dc"/>
<rect x="515.8" y="386.38" width="302.2" height="4.75" fill="#e4d0f4"/>
<rect x="515.8" y="390.73" width="302.2" height="4.76" fill="#d4c4e4"/>
<rect x="515.8" y="395.09" width="302.2" height="3.88" fill="#e4d4f0"/>
<rect x="515.8" y="398.57" width="302.2" height="5.63" fill="#f0e0dc"/>
<rect x="515.8" y="403.80" width="302.2" height="5.62" fill="#c8acf4"/>
<rect x="515.8" y="409.02" width="302.2" height="4.76" fill="#b090dc"/>
<rect x="515.8" y="413.38" width="302.2" height="7.02" fill="#d0b8fc"/>
<rect x="515.8" y="420.00" width="302.2" height="2.14" fill="#dcc8f4"/>
<rect x="515.8" y="421.74" width="302.2" height="6.50" fill="#ece0e0"/>
<rect x="515.8" y="427.84" width="302.2" height="7.37" fill="#b49cfc"/>
<rect x="515.8" y="434.81" width="302.2" height="5.62" fill="#f8d8e8"/>
<rect x="515.8" y="440.03" width="302.2" height="6.50" fill="#f0dcd8"/>
<rect x="515.8" y="446.13" width="302.2" height="4.76" fill="#ece0e0"/>
<rect x="515.8" y="450.49" width="302.2" height="4.75" fill="#d8c8e4"/>
<rect x="515.8" y="454.84" width="302.2" height="4.76" fill="#ecdcfc"/>
<rect x="515.8" y="459.20" width="302.2" height="4.75" fill="#d4c0e4"/>
<rect x="515.8" y="463.55" width="302.2" height="7.37" fill="#e8d4dc"/>
<rect x="515.8" y="470.52" width="302.2" height="5.63" fill="#f8d8e8"/>
<rect x="515.8" y="475.75" width="302.2" height="4.75" fill="#ecc8e8"/>
<rect x="515.8" y="480.10" width="302.2" height="3.89" fill="#c8a8dc"/>
<rect x="515.8" y="483.59" width="302.2" height="4.75" fill="#ccb4f8"/>
<rect x="515.8" y="487.94" width="302.2" height="6.50" fill="#e4c0d0"/>
<rect x="515.8" y="494.04" width="302.2" height="5.63" fill="#d8bcf8"/>
<rect x="515.8" y="499.27" width="302.2" height="7.37" fill="#f4bcb0"/>
<rect x="515.8" y="506.24" width="302.2" height="5.62" fill="#ecdedc"/>
<rect x="515.8" y="511.46" width="302.2" height="9.11" fill="#ffc8c4"/>
<rect x="515.8" y="520.17" width="302.2" height="4.76" fill="#ecc0a8"/>
<rect x="515.8" y="524.53" width="302.2" height="5.63" fill="#fcb0ac"/>
<rect x="515.8" y="529.76" width="302.2" height="3.01" fill="#d8c8e0"/>
<rect x="515.8" y="532.37" width="302.2" height="10.85" fill="#ece4f8"/>
<rect x="515.8" y="542.82" width="302.2" height="5.63" fill="#ece0e0"/>
<rect x="515.8" y="548.05" width="302.2" height="5.63" fill="#baa4f0"/>
<rect x="515.8" y="553.28" width="302.2" height="6.49" fill="#dcc8ec"/>
<rect x="515.8" y="559.37" width="302.2" height="7.37" fill="#d4b4e4"/>
<rect x="515.8" y="566.34" width="302.2" height="6.50" fill="#eccfc8"/>
<rect x="515.8" y="572.44" width="302.2" height="5.63" fill="#f4d0dc"/>
<rect x="515.8" y="577.67" width="302.2" height="6.49" fill="#e8cced"/>
<rect x="515.8" y="583.76" width="302.2" height="5.63" fill="#e6e8e0"/>
<rect x="515.8" y="588.99" width="302.2" height="6.50" fill="#e0c0e8"/>
<rect x="515.8" y="595.09" width="302.2" height="7.37" fill="#ecc0e4"/>
<rect x="515.8" y="602.06" width="302.2" height="3.88" fill="#dccbd0"/>
<rect x="515.8" y="605.54" width="302.2" height="9.11" fill="#ecd0d0"/>
<rect x="515.8" y="614.25" width="302.2" height="6.15" fill="#f8c4bc"/>
<rect x="515.8" y="620.00" width="302.2" height="1.27" fill="#e4c8e8"/>
<rect x="515.8" y="620.87" width="302.2" height="5.63" fill="#ccb4fc"/>
<rect x="515.8" y="626.10" width="302.2" height="6.50" fill="#ecb8c4"/>
<rect x="515.8" y="632.20" width="302.2" height="10.85" fill="#f0e8ec"/>
<rect x="515.8" y="642.65" width="302.2" height="6.50" fill="#e0c8ec"/>
<rect x="515.8" y="648.75" width="302.2" height="3.88" fill="#d4c0fc"/>
<rect x="515.8" y="652.23" width="302.2" height="4.76" fill="#b4a4ec"/>
<rect x="515.8" y="656.59" width="302.2" height="5.62" fill="#dcb4d4"/>
<rect x="515.8" y="661.81" width="302.2" height="6.50" fill="#fcc0b0"/>
<rect x="515.8" y="667.91" width="302.2" height="6.50" fill="#f0dce4"/>
<rect x="515.8" y="674.01" width="302.2" height="6.49" fill="#f8c0cc"/>
<rect x="515.8" y="680.10" width="302.2" height="6.50" fill="#f4dccc"/>
<rect x="515.8" y="686.20" width="302.2" height="6.50" fill="#ffb098"/>
<rect x="515.8" y="692.30" width="302.2" height="6.50" fill="#f8c4c4"/>
<rect x="515.8" y="698.40" width="302.2" height="5.62" fill="#e0c4d8"/>
<rect x="515.8" y="703.62" width="302.2" height="7.37" fill="#fcac9c"/>
<rect x="515.8" y="710.59" width="302.2" height="5.63" fill="#fcc8b0"/>
<rect x="515.8" y="715.82" width="302.2" height="5.63" fill="#d0b8f8"/>
<rect x="515.8" y="721.05" width="302.2" height="7.36" fill="#9870f4"/>
<rect x="515.8" y="728.01" width="302.2" height="9.11" fill="#bca8f0"/>
<rect x="515.8" y="736.72" width="302.2" height="8.24" fill="#e0ccfc"/>
<rect x="515.8" y="744.56" width="302.2" height="13.47" fill="#f4d4c4"/>
<rect x="515.8" y="757.63" width="302.2" height="6.50" fill="#f8d8e0"/>
<rect x="515.8" y="763.73" width="302.2" height="7.37" fill="#f0dccc"/>
<rect x="515.8" y="770.70" width="302.2" height="5.62" fill="#ece0e0"/>
<rect x="515.8" y="775.92" width="302.2" height="6.50" fill="#b48cf0"/>
<rect x="515.8" y="782.02" width="302.2" height="7.37" fill="#c8a4fc"/>
<rect x="515.8" y="788.99" width="302.2" height="6.50" fill="#d0c4e4"/>
<rect x="515.8" y="795.09" width="302.2" height="6.49" fill="#ece0e4"/>
<rect x="515.8" y="801.18" width="302.2" height="6.50" fill="#ffccc4"/>
<rect x="515.8" y="807.28" width="302.2" height="5.63" fill="#f8c4b4"/>
<rect x="515.8" y="812.51" width="302.2" height="7.89" fill="#f8e4e4"/>
<rect x="515.8" y="820.00" width="302.2" height="5.63" fill="#f0d4e0"/>
<rect x="515.8" y="825.23" width="302.2" height="5.62" fill="#e4d0e4"/>
<rect x="515.8" y="830.45" width="302.2" height="6.50" fill="#e4d8e8"/>
<rect x="515.8" y="836.55" width="302.2" height="8.24" fill="#e4dcf4"/>
<rect x="515.8" y="844.39" width="302.2" height="5.63" fill="#ece8fc"/>
<rect x="515.8" y="849.62" width="302.2" height="17.82" fill="#d8c8f4"/>
<rect x="515.8" y="867.04" width="302.2" height="7.37" fill="#ead8fc"/>
<rect x="515.8" y="874.01" width="302.2" height="5.62" fill="#dcd0f4"/>
<rect x="515.8" y="879.23" width="302.2" height="5.63" fill="#e4e6dc"/>
<rect x="515.8" y="884.46" width="302.2" height="5.63" fill="#ffc8c0"/>
<rect x="515.8" y="889.69" width="302.2" height="6.49" fill="#ccb0f4"/>
<rect x="515.8" y="895.78" width="302.2" height="6.50" fill="#f4dcd8"/>
<rect x="515.8" y="901.88" width="302.2" height="6.50" fill="#e4e0e8"/>
<rect x="515.8" y="907.98" width="302.2" height="6.50" fill="#ffccc4"/>
<rect x="515.8" y="914.08" width="302.2" height="7.37" fill="#f8e0d4"/>
<rect x="515.8" y="921.05" width="302.2" height="5.62" fill="#f4dce0"/>
<rect x="515.8" y="926.27" width="302.2" height="6.50" fill="#f6e2d0"/>
<rect x="515.8" y="932.37" width="302.2" height="6.50" fill="#fcdcec"/>
<rect x="515.8" y="938.47" width="302.2" height="6.49" fill="#f0d0b8"/>
<rect x="515.8" y="944.56" width="302.2" height="6.50" fill="#f4c8d0"/>
<rect x="515.8" y="950.66" width="302.2" height="7.37" fill="#fcc8b8"/>
<rect x="515.8" y="957.63" width="302.2" height="10.85" fill="#ffccc8"/>
<rect x="515.8" y="968.08" width="302.2" height="6.50" fill="#e0d4e8"/>
<rect x="515.8" y="974.18" width="302.2" height="5.63" fill="#ece0f0"/>
<rect x="515.8" y="979.41" width="302.2" height="9.11" fill="#ffd4cc"/>
<rect x="515.8" y="988.12" width="302.2" height="9.11" fill="#f0bca8"/>
<rect x="515.8" y="996.83" width="302.2" height="9.11" fill="#ffccc0"/>
<rect x="515.8" y="1005.54" width="302.2" height="4.76" fill="#f4ac98"/>
<rect x="515.8" y="1009.90" width="302.2" height="10.50" fill="#ffa088"/>
<rect x="515.8" y="1020.00" width="302.2" height="3.01" fill="#f8a080"/>
<rect x="515.8" y="1022.61" width="302.2" height="5.63" fill="#f0e0dc"/>
<rect x="515.8" y="1027.84" width="302.2" height="6.50" fill="#e8e8f8"/>
<rect x="515.8" y="1033.94" width="302.2" height="11.72" fill="#fcd4d0"/>
<rect x="515.8" y="1045.26" width="302.2" height="5.63" fill="#b8a8e0"/>
<rect x="515.8" y="1050.49" width="302.2" height="5.62" fill="#dcc4fc"/>
<rect x="515.8" y="1055.71" width="302.2" height="5.63" fill="#ccb4ec"/>
<rect x="515.8" y="1060.94" width="302.2" height="4.76" fill="#e4ccfc"/>
<rect x="515.8" y="1065.30" width="302.2" height="5.62" fill="#c8b0ec"/>
<rect x="515.8" y="1070.52" width="302.2" height="6.50" fill="#f4bcb4"/>
<rect x="515.8" y="1076.62" width="302.2" height="5.63" fill="#ecd0e8"/>
<rect x="515.8" y="1081.85" width="302.2" height="6.49" fill="#ccb8fc"/>
<rect x="515.8" y="1087.94" width="302.2" height="7.37" fill="#f8d8e0"/>
<rect x="515.8" y="1094.91" width="302.2" height="6.50" fill="#ecdcdc"/>
<rect x="515.8" y="1101.01" width="302.2" height="3.01" fill="#fcb8d0"/>
<rect x="515.8" y="1103.62" width="302.2" height="4.76" fill="#dc94a8"/>
<rect x="515.8" y="1107.98" width="302.2" height="4.75" fill="#fcacb4"/>
<rect x="515.8" y="1112.33" width="302.2" height="17.83" fill="#f4e6e0"/>
<rect x="515.8" y="1129.76" width="302.2" height="6.49" fill="#f0b4c0"/>
<rect x="515.8" y="1135.85" width="302.2" height="7.37" fill="#ece4ec"/>
<rect x="515.8" y="1142.82" width="302.2" height="5.63" fill="#e8d0e4"/>
<rect x="515.8" y="1148.05" width="302.2" height="5.63" fill="#f0d8ec"/>
<rect x="515.8" y="1153.28" width="302.2" height="8.23" fill="#f0e4f0"/>
<rect x="515.8" y="1161.11" width="302.2" height="5.63" fill="#ecdccc"/>
<rect x="515.8" y="1166.34" width="302.2" height="7.37" fill="#f0d0e4"/>
<rect x="515.8" y="1173.31" width="302.2" height="4.76" fill="#f8d4d8"/>
<rect x="515.8" y="1177.67" width="302.2" height="7.36" fill="#f0ccd0"/>
<rect x="515.8" y="1184.63" width="302.2" height="6.50" fill="#f0d0ec"/>
<rect x="515.8" y="1190.73" width="302.2" height="5.63" fill="#f4e0dc"/>
<rect x="515.8" y="1195.96" width="302.2" height="12.59" fill="#dcc8f4"/>
<rect x="515.8" y="1208.15" width="302.2" height="6.50" fill="#e4e0ec"/>
<rect x="515.8" y="1214.25" width="302.2" height="6.15" fill="#f4b4b0"/>
<rect x="515.8" y="1220.00" width="302.2" height="6.50" fill="#f8bccc"/>
<rect x="515.8" y="1226.10" width="302.2" height="5.62" fill="#f0ac90"/>
<rect x="515.8" y="1231.32" width="302.2" height="7.37" fill="#ffa080"/>
<rect x="515.8" y="1238.29" width="302.2" height="6.50" fill="#f4a4bc"/>
<rect x="515.8" y="1244.39" width="302.2" height="6.50" fill="#fca088"/>
<rect x="515.8" y="1250.49" width="302.2" height="6.50" fill="#ffc0a8"/>
<rect x="515.8" y="1256.59" width="302.2" height="5.62" fill="#f8c8bc"/>
<rect x="515.8" y="1261.81" width="302.2" height="9.98" fill="#fcdce0"/>
<rect x="515.8" y="1271.39" width="302.2" height="5.63" fill="#dcd0d8"/>
<rect x="515.8" y="1276.62" width="302.2" height="4.76" fill="#f4e4ec"/>
<rect x="515.8" y="1280.98" width="302.2" height="11.72" fill="#ece0e0"/>
<rect x="515.8" y="1292.30" width="302.2" height="6.50" fill="#ece4f0"/>
<rect x="515.8" y="1298.40" width="302.2" height="6.49" fill="#dcc4f4"/>
<rect x="515.8" y="1304.49" width="302.2" height="6.50" fill="#e4dcec"/>
<rect x="515.8" y="1310.59" width="302.2" height="6.50" fill="#f8e4d4"/>
<rect x="515.8" y="1316.69" width="302.2" height="6.50" fill="#f0c4b4"/>
<rect x="515.8" y="1322.79" width="302.2" height="6.50" fill="#f8d8d4"/>
<rect x="515.8" y="1328.89" width="302.2" height="5.62" fill="#e8e8e6"/>
<rect x="515.8" y="1334.11" width="302.2" height="6.50" fill="#eaece6"/>
<rect x="515.8" y="1340.21" width="302.2" height="7.37" fill="#f8dcd8"/>
<rect x="515.8" y="1347.18" width="302.2" height="6.50" fill="#f4e0d8"/>
<rect x="515.8" y="1353.28" width="302.2" height="5.62" fill="#f8dcdc"/>
<rect x="515.8" y="1358.50" width="302.2" height="7.37" fill="#fcb0a0"/>
<rect x="515.8" y="1365.47" width="302.2" height="5.63" fill="#fcc8b0"/>
<rect x="515.8" y="1370.70" width="302.2" height="11.72" fill="#e4c0e8"/>
<rect x="515.8" y="1382.02" width="302.2" height="6.50" fill="#d8e4ec"/>
<rect x="515.8" y="1388.12" width="302.2" height="7.37" fill="#e8dcf8"/>
<rect x="515.8" y="1395.09" width="302.2" height="4.75" fill="#fcdcd4"/>
<rect x="515.8" y="1399.44" width="302.2" height="7.37" fill="#dc80ac"/>
<rect x="515.8" y="1406.41" width="302.2" height="5.63" fill="#f4e0d0"/>
<rect x="515.8" y="1411.64" width="302.2" height="8.76" fill="#ece4ec"/>
<rect x="515.8" y="1420.00" width="302.2" height="4.76" fill="#e0d4e0"/>
<rect x="515.8" y="1424.36" width="302.2" height="6.49" fill="#fcbcb8"/>
<rect x="515.8" y="1430.45" width="302.2" height="6.50" fill="#e4d8e8"/>
<rect x="515.8" y="1436.55" width="302.2" height="6.50" fill="#fce4d8"/>
<rect x="515.8" y="1442.65" width="302.2" height="5.62" fill="#f0ece4"/>
<rect x="515.8" y="1447.87" width="302.2" height="7.37" fill="#e8c0c8"/>
<rect x="515.8" y="1454.84" width="302.2" height="5.63" fill="#f4d4e4"/>
<rect x="515.8" y="1460.07" width="302.2" height="9.98" fill="#e4e0f4"/>
<rect x="515.8" y="1469.65" width="302.2" height="4.76" fill="#ccbce0"/>
<rect x="515.8" y="1474.01" width="302.2" height="9.11" fill="#dcb4e4"/>
<rect x="515.8" y="1482.72" width="302.2" height="7.37" fill="#dcd0fc"/>
<rect x="515.8" y="1489.69" width="302.2" height="6.49" fill="#e8c8d0"/>
<rect x="515.8" y="1495.78" width="302.2" height="7.37" fill="#e4c0ec"/>
<rect x="515.8" y="1502.75" width="302.2" height="5.63" fill="#fcc4c8"/>
<rect x="515.8" y="1507.98" width="302.2" height="6.50" fill="#e0bcbc"/>
<rect x="515.8" y="1514.08" width="302.2" height="6.49" fill="#ff9c8c"/>
<rect x="515.8" y="1520.17" width="302.2" height="7.37" fill="#f4dce8"/>
<rect x="515.8" y="1527.14" width="302.2" height="5.63" fill="#f0e0d8"/>
<rect x="515.8" y="1532.37" width="302.2" height="5.63" fill="#ffd0c4"/>
<rect x="515.8" y="1537.60" width="302.2" height="9.98" fill="#e4d4e4"/>
<rect x="515.8" y="1547.18" width="302.2" height="9.98" fill="#f0dcec"/>
<rect x="515.8" y="1556.76" width="302.2" height="6.50" fill="#ecdce0"/>
<rect x="515.8" y="1562.86" width="302.2" height="13.46" fill="#e8e6ea"/>
<rect x="515.8" y="1575.92" width="302.2" height="6.50" fill="#dccce0"/>
<rect x="515.8" y="1582.02" width="302.2" height="8.24" fill="#f0d4f8"/>
<rect x="515.8" y="1589.86" width="302.2" height="8.24" fill="#c4b8ec"/>
<rect x="515.8" y="1597.70" width="302.2" height="6.50" fill="#b89cec"/>
<rect x="515.8" y="1603.80" width="302.2" height="7.37" fill="#dca0e0"/>
<rect x="515.8" y="1610.77" width="302.2" height="5.62" fill="#f0b4bc"/>
<rect x="515.8" y="1615.99" width="302.2" height="4.41" fill="#d4c0f4"/>
<rect x="515.8" y="1620.00" width="302.2" height="3.01" fill="#d0c0e4"/>
<rect x="515.8" y="1622.61" width="302.2" height="6.50" fill="#b0a4fc"/>
<rect x="515.8" y="1628.71" width="302.2" height="4.76" fill="#dcc0fc"/>
<rect x="515.8" y="1633.07" width="302.2" height="6.49" fill="#c8b0ec"/>
<rect x="515.8" y="1639.16" width="302.2" height="7.37" fill="#e0ccfc"/>
<rect x="515.8" y="1646.13" width="302.2" height="11.73" fill="#d4c0f4"/>
<rect x="515.8" y="1657.46" width="302.2" height="9.11" fill="#c8b8ec"/>
<rect x="515.8" y="1666.17" width="302.2" height="6.49" fill="#ecdcfc"/>
<rect x="515.8" y="1672.26" width="302.2" height="4.76" fill="#e8c8d8"/>
<rect x="515.8" y="1676.62" width="302.2" height="6.50" fill="#f0c8c8"/>
<rect x="515.8" y="1682.72" width="302.2" height="6.50" fill="#f4b8b4"/>
<rect x="515.8" y="1688.82" width="302.2" height="6.49" fill="#fcd8c4"/>
<rect x="515.8" y="1694.91" width="302.2" height="6.50" fill="#f8e4dc"/>
<rect x="515.8" y="1701.01" width="302.2" height="6.50" fill="#ece0fc"/>
<rect x="515.8" y="1707.11" width="302.2" height="4.75" fill="#d8cce8"/>
<rect x="515.8" y="1711.46" width="302.2" height="7.37" fill="#f4e4e0"/>
<rect x="515.8" y="1718.43" width="302.2" height="6.50" fill="#f4d8cc"/>
<rect x="515.8" y="1724.53" width="302.2" height="5.63" fill="#f0c8d4"/>
<rect x="515.8" y="1729.76" width="302.2" height="7.36" fill="#f8e4e4"/>
<rect x="515.8" y="1736.72" width="302.2" height="5.63" fill="#dcd8f0"/>
<rect x="515.8" y="1741.95" width="302.2" height="7.37" fill="#ffb498"/>
<rect x="515.8" y="1748.92" width="302.2" height="6.50" fill="#ffc0b8"/>
<rect x="515.8" y="1755.02" width="302.2" height="6.49" fill="#ccb8d8"/>
<rect x="515.8" y="1761.11" width="302.2" height="7.37" fill="#e8c8dc"/>
<rect x="515.8" y="1768.08" width="302.2" height="6.50" fill="#e0d4ec"/>
<rect x="515.8" y="1774.18" width="302.2" height="9.11" fill="#ece4f8"/>
<rect x="515.8" y="1782.89" width="302.2" height="8.24" fill="#dcc4f8"/>
<rect x="515.8" y="1790.73" width="302.2" height="6.50" fill="#f0ccb8"/>
<rect x="515.8" y="1796.83" width="302.2" height="6.50" fill="#e8ccf4"/>
<rect x="515.8" y="1802.93" width="302.2" height="10.85" fill="#eae2e6"/>
<rect x="515.8" y="1813.38" width="302.2" height="7.02" fill="#f8dce0"/>
<rect x="515.8" y="1820.00" width="302.2" height="6.50" fill="#fccfc0"/>
<rect x="515.8" y="1826.10" width="302.2" height="9.11" fill="#d8bce4"/>
<rect x="515.8" y="1834.81" width="302.2" height="4.75" fill="#f0dcf8"/>
<rect x="515.8" y="1839.16" width="302.2" height="6.50" fill="#ece4e8"/>
<rect x="515.8" y="1845.26" width="302.2" height="5.63" fill="#d0b8e0"/>
<rect x="515.8" y="1850.49" width="302.2" height="12.59" fill="#f8d0d0"/>
<rect x="515.8" y="1862.68" width="302.2" height="6.50" fill="#dca0d8"/>
<rect x="515.8" y="1868.78" width="302.2" height="6.50" fill="#f8ccc4"/>
<rect x="515.8" y="1874.88" width="302.2" height="8.24" fill="#dcc4f8"/>
<rect x="515.8" y="1882.72" width="302.2" height="7.37" fill="#c8b4e0"/>
<rect x="515.8" y="1889.69" width="302.2" height="7.37" fill="#e8dcfc"/>
<rect x="515.8" y="1896.66" width="302.2" height="6.49" fill="#d8d0ec"/>
<rect x="515.8" y="1902.75" width="302.2" height="11.73" fill="#e4d8f4"/>
<rect x="515.8" y="1914.08" width="302.2" height="6.49" fill="#d4c0dc"/>
<rect x="515.8" y="1920.17" width="302.2" height="6.50" fill="#ecd0ec"/>
<rect x="515.8" y="1926.27" width="302.2" height="3.02" fill="#dcb8d0"/>
<rect x="515.8" y="1928.89" width="302.2" height="6.49" fill="#ece8f8"/>
<rect x="515.8" y="1934.98" width="302.2" height="6.50" fill="#ece0ec"/>
<rect x="515.8" y="1941.08" width="302.2" height="6.50" fill="#f8ccb8"/>
<rect x="515.8" y="1947.18" width="302.2" height="6.50" fill="#dca8f8"/>
<rect x="515.8" y="1953.28" width="302.2" height="5.62" fill="#dcd8ec"/>
<rect x="515.8" y="1958.50" width="302.2" height="6.50" fill="#dfe6ec"/>
<rect x="515.8" y="1964.60" width="302.2" height="7.37" fill="#f0e4ec"/>
<rect x="515.8" y="1971.57" width="302.2" height="3.88" fill="#f8cce0"/>
<rect x="515.8" y="1975.05" width="302.2" height="4.76" fill="#c49cdc"/>
<rect x="515.8" y="1979.41" width="302.2" height="4.75" fill="#e8c0fc"/>
<rect x="515.8" y="1983.76" width="302.2" height="5.19" fill="#f0d8cc"/>
</g>
<g filter="url(#bl)">
<text x="362.8" y="269.1" font-size="23.5" text-anchor="middle" font-weight="bold" fill="#000" fill-opacity="0.85" stroke="#000" stroke-opacity="0.68" stroke-width="1.9" stroke-linejoin="round">*</text>
<text x="362.8" y="599.6" font-size="24.5" text-anchor="middle" font-weight="bold" fill="#000" fill-opacity="0.90" stroke="#000" stroke-opacity="0.72" stroke-width="1.9" stroke-linejoin="round">*</text>
<text x="362.8" y="605.6" font-size="24.5" text-anchor="middle" font-weight="bold" fill="#000" fill-opacity="0.90" stroke="#000" stroke-opacity="0.72" stroke-width="1.9" stroke-linejoin="round">*</text>
<text x="362.8" y="611.6" font-size="24.5" text-anchor="middle" font-weight="bold" fill="#000" fill-opacity="0.90" stroke="#000" stroke-opacity="0.72" stroke-width="1.9" stroke-linejoin="round">*</text>
<text x="362.8" y="617.1" font-size="24.5" text-anchor="middle" font-weight="bold" fill="#000" fill-opacity="0.90" stroke="#000" stroke-opacity="0.72" stroke-width="1.9" stroke-linejoin="round">*</text>
<text x="362.8" y="625.5" font-size="23.5" text-anchor="middle" font-weight="bold" fill="#000" fill-opacity="0.70" stroke="#000" stroke-opacity="0.56" stroke-width="1.9" stroke-linejoin="round">*</text>
<text x="362.8" y="631.0" font-size="23.5" text-anchor="middle" font-weight="bold" fill="#000" fill-opacity="0.70" stroke="#000" stroke-opacity="0.56" stroke-width="1.9" stroke-linejoin="round">*</text>
<text x="362.8" y="636.5" font-size="23.5" text-anchor="middle" font-weight="bold" fill="#000" fill-opacity="0.70" stroke="#000" stroke-opacity="0.56" stroke-width="1.9" stroke-linejoin="round">*</text>
<text x="362.8" y="934.2" font-size="23.5" text-anchor="middle" font-weight="bold" fill="#000" fill-opacity="0.82" stroke="#000" stroke-opacity="0.66" stroke-width="1.9" stroke-linejoin="round">*</text>
<text x="362.8" y="974.3" font-size="23.5" text-anchor="middle" font-weight="bold" fill="#000" fill-opacity="0.82" stroke="#000" stroke-opacity="0.66" stroke-width="1.9" stroke-linejoin="round">*</text>
<text x="362.8" y="1085.3" font-size="23.5" text-anchor="middle" font-weight="bold" fill="#000" fill-opacity="0.82" stroke="#000" stroke-opacity="0.66" stroke-width="1.9" stroke-linejoin="round">*</text>
<text x="362.8" y="1179.1" font-size="23.5" text-anchor="middle" font-weight="bold" fill="#000" fill-opacity="0.82" stroke="#000" stroke-opacity="0.66" stroke-width="1.9" stroke-linejoin="round">*</text>
<text x="362.8" y="1231.5" font-size="23.5" text-anchor="middle" font-weight="bold" fill="#000" fill-opacity="0.82" stroke="#000" stroke-opacity="0.66" stroke-width="1.9" stroke-linejoin="round">*</text>
<text x="362.8" y="1237.5" font-size="23.5" text-anchor="middle" font-weight="bold" fill="#000" fill-opacity="0.82" stroke="#000" stroke-opacity="0.66" stroke-width="1.9" stroke-linejoin="round">*</text>
<text x="362.8" y="1263.6" font-size="23.5" text-anchor="middle" font-weight="bold" fill="#000" fill-opacity="0.82" stroke="#000" stroke-opacity="0.66" stroke-width="1.9" stroke-linejoin="round">*</text>
<text x="362.8" y="1609.9" font-size="23.5" text-anchor="middle" font-weight="bold" fill="#000" fill-opacity="0.82" stroke="#000" stroke-opacity="0.66" stroke-width="1.9" stroke-linejoin="round">*</text>
<text x="362.8" y="1710.5" font-size="23.5" text-anchor="middle" font-weight="bold" fill="#000" fill-opacity="0.82" stroke="#000" stroke-opacity="0.66" stroke-width="1.9" stroke-linejoin="round">*</text>
<line x1="209.7" y1="1988.5" x2="819.8" y2="1988.5" stroke="#6a6468" stroke-width="4.4"/>
<line x1="209.7" y1="30.7" x2="819.8" y2="30.7" stroke="#3a3038" stroke-width="3.8"/>
<line x1="818.0" y1="28.9" x2="818.0" y2="1990.3" stroke="#2e2636" stroke-width="3.0"/>
<line x1="211.5" y1="28.9" x2="211.5" y2="1990.3" stroke="#15101f" stroke-width="3.7"/>
</g>
<g filter="url(#bt)">
<text transform="translate(76.60 1185.07) rotate(-90)" font-size="72.00" textLength="353.32" lengthAdjust="spacingAndGlyphs">Compound</text>
<text transform="translate(183.60 2165.07) rotate(-90)" font-size="66.00" textLength="161.00" lengthAdjust="spacingAndGlyphs">Class</text>
<text transform="translate(352.00 2221.45) rotate(-90)" font-size="66.00" textLength="213.02" lengthAdjust="spacingAndGlyphs">Study 1</text>
<text transform="translate(421.50 2560.06) rotate(-90)" font-size="66.00" textLength="556.42" lengthAdjust="spacingAndGlyphs">(Nagy-Szakal et al)</text>
<text transform="translate(655.50 2222.03) rotate(-90)" font-size="66.00" textLength="218.98" lengthAdjust="spacingAndGlyphs">Study 2</text>
<text transform="translate(726.50 2323.75) rotate(-90)" font-size="66.00" textLength="323.41" lengthAdjust="spacingAndGlyphs">(Che et al.)</text>
<text x="422.09" y="2680.50" font-size="72.00" textLength="180.95" lengthAdjust="spacingAndGlyphs">Study</text>
<text x="848.60" y="328.90" font-size="52.00" textLength="142.90" lengthAdjust="spacingAndGlyphs" class="b">Class</text>
<text x="848.60" y="1190.00" font-size="52.00" textLength="534.15" lengthAdjust="spacingAndGlyphs" class="b">Regression Estimate</text>
<text x="848.60" y="1641.80" font-size="52.00" textLength="576.35" lengthAdjust="spacingAndGlyphs" class="b">FDR-corrected p value</text>
<text x="925.10" y="1249.50" font-size="53.50" textLength="30.04" lengthAdjust="spacingAndGlyphs">1</text>
<text x="925.10" y="1324.30" font-size="53.50" textLength="73.73" lengthAdjust="spacingAndGlyphs">0.5</text>
<text x="925.10" y="1399.30" font-size="53.50" textLength="28.39" lengthAdjust="spacingAndGlyphs">0</text>
<text x="925.10" y="1474.20" font-size="53.50" textLength="92.35" lengthAdjust="spacingAndGlyphs">-0.5</text>
<text x="925.10" y="1549.20" font-size="53.50" textLength="48.04" lengthAdjust="spacingAndGlyphs">-1</text>
<text x="925.10" y="1721.60" font-size="53.50" textLength="278.62" lengthAdjust="spacingAndGlyphs">FDR &lt; 0.10</text>
<text x="925.10" y="408.60" font-size="53.50" textLength="599.37" lengthAdjust="spacingAndGlyphs">Alkaloids and derivatives</text>
<text x="925.10" y="469.40" font-size="53.50" textLength="280.84" lengthAdjust="spacingAndGlyphs">Benzenoids</text>
<text x="925.10" y="530.20" font-size="53.50" textLength="897.54" lengthAdjust="spacingAndGlyphs">Homogeneous non-metal compounds</text>
<text x="925.10" y="591.00" font-size="53.50" textLength="718.76" lengthAdjust="spacingAndGlyphs">Lipids and lipid-like molecules</text>
<text x="925.10" y="651.80" font-size="53.50" textLength="976.54" lengthAdjust="spacingAndGlyphs">Nucleosides, nucleotides, and analogues</text>
<text x="925.10" y="712.60" font-size="53.50" textLength="713.97" lengthAdjust="spacingAndGlyphs">Organic acids and derivatives</text>
<text x="925.10" y="773.40" font-size="53.50" textLength="693.25" lengthAdjust="spacingAndGlyphs">Organic nitrogen compounds</text>
<text x="925.10" y="834.20" font-size="53.50" textLength="671.95" lengthAdjust="spacingAndGlyphs">Organic oxygen compounds</text>
<text x="925.10" y="895.00" font-size="53.50" textLength="758.55" lengthAdjust="spacingAndGlyphs">Organoheterocyclic compounds</text>
<text x="925.10" y="955.80" font-size="53.50" textLength="605.75" lengthAdjust="spacingAndGlyphs">Organosulfur compounds</text>
<text x="925.10" y="1016.60" font-size="53.50" textLength="818.94" lengthAdjust="spacingAndGlyphs">Phenylpropanoids and polyketides</text>
<text x="925.10" y="1077.40" font-size="53.50" textLength="580.25" lengthAdjust="spacingAndGlyphs">Unidentified compounds</text>
</g>
<g filter="url(#bl)">
<rect x="851.0" y="361.0" width="55.2" height="56.6" fill="#d6d6d6"/>
<rect x="851.0" y="421.8" width="55.2" height="56.6" fill="#a9da5a"/>
<rect x="851.0" y="482.6" width="55.2" height="56.6" fill="#c9e8c3"/>
<rect x="851.0" y="543.4" width="55.2" height="56.6" fill="#fdfdb0"/>
<rect x="851.0" y="604.2" width="55.2" height="56.6" fill="#f77a6c"/>
<rect x="851.0" y="665.0" width="55.2" height="56.6" fill="#fbb062"/>
<rect x="851.0" y="725.8" width="55.2" height="56.6" fill="#80b1d3"/>
<rect x="851.0" y="786.6" width="55.2" height="56.6" fill="#fccde5"/>
<rect x="851.0" y="847.4" width="55.2" height="56.6" fill="#8dd3c7"/>
<rect x="851.0" y="908.2" width="55.2" height="56.6" fill="#bebada"/>
<rect x="851.0" y="969.0" width="55.2" height="56.6" fill="#bd80bd"/>
<rect x="851.0" y="1029.8" width="55.2" height="56.6" fill="#ffe566"/>
<rect x="847.5" y="1215.2" width="64.0" height="326.3" fill="url(#cb)"/>
<rect x="847.5" y="1227.3" width="12" height="3.4" fill="#fff" opacity="0.9"/>
<rect x="899.5" y="1227.3" width="12" height="3.4" fill="#fff" opacity="0.9"/>
<rect x="847.5" y="1302.3" width="12" height="3.4" fill="#fff" opacity="0.9"/>
<rect x="899.5" y="1302.3" width="12" height="3.4" fill="#fff" opacity="0.9"/>
<rect x="847.5" y="1377.3" width="12" height="3.4" fill="#fff" opacity="0.9"/>
<rect x="899.5" y="1377.3" width="12" height="3.4" fill="#fff" opacity="0.9"/>
<rect x="847.5" y="1452.3" width="12" height="3.4" fill="#fff" opacity="0.9"/>
<rect x="899.5" y="1452.3" width="12" height="3.4" fill="#fff" opacity="0.9"/>
<rect x="847.5" y="1527.3" width="12" height="3.4" fill="#fff" opacity="0.9"/>
<rect x="899.5" y="1527.3" width="12" height="3.4" fill="#fff" opacity="0.9"/>
<rect x="851.0" y="1670.6" width="55.0" height="58.7" fill="#ececec"/>
</g>
<g filter="url(#bt)">
<text x="878.5" y="1716.0" font-size="54.0" text-anchor="middle" fill="#111">*</text>
</g>
</svg>
</body></html>
